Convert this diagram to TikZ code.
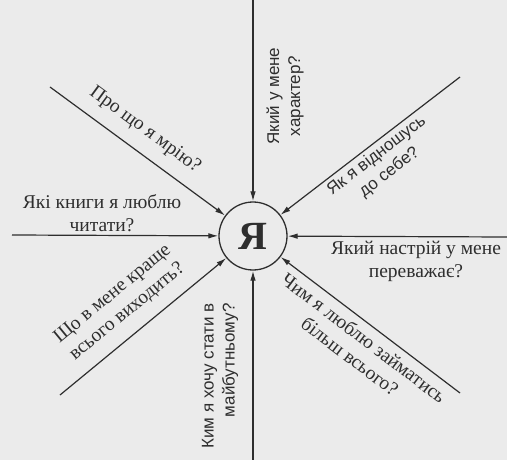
\documentclass[tikz,border=0pt]{standalone}
\usepackage{fontspec}
\setmainfont{Liberation Serif}
\setsansfont{Liberation Sans}
\usetikzlibrary{arrows.meta}
\definecolor{yaInk}{HTML}{2E2E2E}
\definecolor{yaPaper}{HTML}{EBEBEB}
\tikzset{
  ya arrow/.style={draw=yaInk, line width=1.2pt, -{Latex[length=10pt,width=5.5pt]}},
  ya centre/.style={circle, draw=yaInk, line width=1.3pt, minimum size=68pt, inner sep=0pt, font=\fontsize{40}{40}\selectfont\bfseries, text=yaInk},
  ya label/.style={font=\fontsize{19.5}{23}\selectfont, text=yaInk, align=center, inner sep=0pt},
  ya side label/.style={font=\sffamily\fontsize{17}{21}\selectfont, text=yaInk, align=center, inner sep=0pt},
}

\begin{document}
\begin{tikzpicture}[x=1pt,y=-1pt]
  \fill[yaPaper] (0,0) rectangle (507,460);
  \useasboundingbox (0,0) rectangle (507,460);
  \node[ya centre] (ya) at (253,236) {Я};
  % free ends of the eight arrows
  \coordinate (eTop) at (253,0);
  \coordinate (eUR) at (460,77);
  \coordinate (eRight) at (507,237);
  \coordinate (eLR) at (460,393);
  \coordinate (eBottom) at (253,460);
  \coordinate (eLL) at (60,395);
  \coordinate (eLeft) at (12,235);
  \coordinate (eUL) at (50,87);
  \foreach \e in {eTop,eUR,eRight,eLR,eBottom,eLL,eLeft,eUL}
    \draw[ya arrow] (\e) -- (ya);
  % questions round the circle
  \node[ya side label, rotate=90] (qTop) at (285,96) {Який у мене\\характер?};
  \node[ya side label, rotate=37.5] (qUR) at (383,164) {Як я відношусь\\до себе?};
  \node[ya label] (qRight) at (416,261) {Який настрій у мене\\переважає?};
  \node[ya label, rotate=-37.2] (qLR) at (357,347) {Чим я люблю займатись\\більш всього?};
  \node[ya side label, rotate=90, align=right] (qBottom) at (220,376) {Ким я хочу стати в\\майбутньому?};
  \node[ya label, rotate=39.5] (qLL) at (120,303) {Що в мене краще\\всього виходить?};
  \node[ya label] (qLeft) at (102,213) {Які книги я люблю\\читати?};
  \node[ya label, rotate=-36.3] (qUL) at (145,130) {Про що я мрію?};
\end{tikzpicture}
\end{document}
